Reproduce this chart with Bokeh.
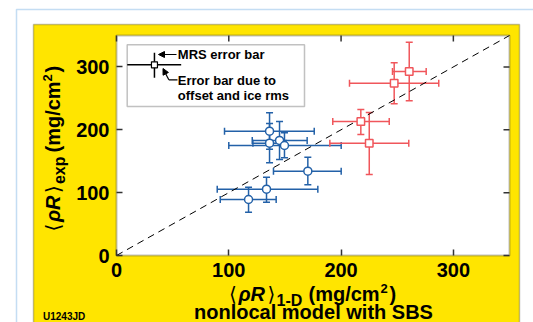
import math
from bokeh.plotting import figure
from bokeh.models import (Range1d, FixedTicker, ColumnDataSource, Whisker,
                          TeeHead, BoxAnnotation, Label, Arrow, NormalHead)
from bokeh.embed import file_html
from bokeh.resources import INLINE

# ---------------- data ----------------
ticks = [0, 100, 200, 300]
diag = [0, 350]
axis_span = (0, 350)

blue_x = [136.3, 145.2, 136.3, 149.6, 170.4, 133.6, 117.6]
blue_y = [197.8, 183.0, 178.7, 175.0, 134.1, 105.5, 89.1]
blue_xlo = [96.2, 120.9, 121.5, 100.0, 139.8, 89.7, 92.4]
blue_xhi = [176.1, 169.8, 151.0, 200.1, 200.1, 179.3, 142.2]
blue_ylo = [169.0, 152.7, 147.5, 155.4, 112.5, 84.8, 68.9]
blue_yhi = [227.0, 213.2, 210.0, 195.2, 156.4, 124.6, 108.7]

red_x = [260.7, 247.3, 217.6, 225.1]
red_y = [292.7, 274.1, 213.2, 178.7]
red_xlo = [245.8, 207.5, 192.6, 190.0]
red_xhi = [275.8, 287.0, 242.9, 260.3]
red_ylo = [246.1, 241.3, 192.5, 128.9]
red_yhi = [339.3, 306.6, 232.3, 227.5]

legend_x = [33.8]
legend_y = [303.4]
legend_xlo = [9.5]
legend_xhi = [57.6]
legend_ylo = [282.7]
legend_yhi = [322.5]

# ---------------- layout helpers (pixel -> data) ----------------
W, H = 533, 322
X0, X350 = 116.0, 509.0      # pixel columns of x = 0 and x = 350
Y0, Y350 = 255.0, 35.0       # pixel rows of y = 0 and y = 350
XS = (X350 - X0) / 350.0
YS = (Y0 - Y350) / 350.0
TICK = 6.0


def cx(px):
    return (px - X0) / XS


def cy(py):
    return (Y0 - py) / YS


BLUE = "#2361a8"
RED = "#f0565b"
YELLOW = "#FFE500"
DARK = "#333333"
FONT = "Liberation Sans"

p = figure(width=W, height=H,
           x_range=Range1d(cx(0), cx(W)), y_range=Range1d(cy(H), cy(0)),
           output_backend="svg", toolbar_location=None,
           min_border_left=0, min_border_right=0, min_border_top=0,
           min_border_bottom=0, min_border=0,
           border_fill_color="white", background_fill_color="white",
           outline_line_color=None)
p.xgrid.visible = False
p.ygrid.visible = False
p.title.visible = False

# backgrounds
p.add_layout(BoxAnnotation(left=cx(16), right=cx(900), top=cy(9), bottom=cy(900),
                           fill_color=None, fill_alpha=0, line_color="#3a8fd8",
                           line_width=1.5, level="underlay"))
p.add_layout(BoxAnnotation(left=cx(33), right=cx(519), top=cy(24), bottom=cy(900),
                           fill_color=YELLOW, fill_alpha=1, line_color=DARK,
                           line_width=1.5, level="underlay"))
p.add_layout(BoxAnnotation(left=axis_span[0], right=axis_span[1],
                           top=axis_span[1], bottom=axis_span[0],
                           fill_color="white", fill_alpha=1, line_color=DARK,
                           line_width=2, level="underlay"))


def style_axis(ax, loc):
    ax.ticker = FixedTicker(ticks=ticks)
    ax.fixed_location = loc
    ax.bounds = axis_span
    ax.major_tick_in = int(TICK)
    ax.major_tick_out = 0
    ax.minor_tick_in = 0
    ax.minor_tick_out = 0
    ax.axis_line_color = None
    ax.major_tick_line_color = DARK
    ax.major_tick_line_width = 1.5
    ax.major_label_text_font = FONT
    ax.major_label_text_font_style = "bold"
    ax.major_label_text_color = "black"
    ax.major_label_standoff = 7
    ax.major_label_text_font_size = "20px"


style_axis(p.xaxis[0], axis_span[0])
style_axis(p.yaxis[0], axis_span[0])

# mirrored inward ticks on top and right edges
n = len(ticks)
p.segment(x0=ticks, y0=[axis_span[1]] * n, x1=ticks, y1=[axis_span[1] - TICK / YS] * n,
          line_color=DARK, line_width=1.5)
p.segment(x0=[axis_span[1]] * n, y0=ticks, x1=[axis_span[1] - TICK / XS] * n, y1=ticks,
          line_color=DARK, line_width=1.5)

# diagonal
p.line(diag, diag, line_color="black", line_width=1, line_dash="7 5")


def errorbars(xs, ys, xlo, xhi, ylo, yhi, color, caps=True):
    src = ColumnDataSource(dict(x=xs, y=ys, xlo=xlo, xhi=xhi, ylo=ylo, yhi=yhi))
    for base, lo, hi, dim in (("y", "xlo", "xhi", "width"), ("x", "ylo", "yhi", "height")):
        if caps:
            kw = dict(upper_head=TeeHead(size=7, line_color=color, line_width=1.5),
                      lower_head=TeeHead(size=7, line_color=color, line_width=1.5))
        else:
            kw = dict(upper_head=None, lower_head=None)
        p.add_layout(Whisker(source=src, base=base, lower=lo, upper=hi, dimension=dim,
                             line_color=color, line_width=1.5, level="underlay", **kw))
    return src


sb = errorbars(blue_x, blue_y, blue_xlo, blue_xhi, blue_ylo, blue_yhi, BLUE)
sr = errorbars(red_x, red_y, red_xlo, red_xhi, red_ylo, red_yhi, RED)
sl = errorbars(legend_x, legend_y, legend_xlo, legend_xhi, legend_ylo, legend_yhi, "black", caps=False)

p.scatter("x", "y", source=sb, marker="circle", size=8, fill_color="white",
          line_color=BLUE, line_width=1.5)
p.scatter("x", "y", source=sr, marker="square", size=7.5, fill_color="white",
          line_color=RED, line_width=1.5)
p.scatter("x", "y", source=sl, marker="square", size=6, fill_color="white",
          line_color="black", line_width=1.2)

# legend box
p.add_layout(BoxAnnotation(left=cx(126.7), right=cx(304), top=cy(44.3), bottom=cy(106),
                           fill_alpha=0, fill_color=None, line_color=DARK, line_width=1.5))


def lab(x, y, text, size=13, style="bold", font=FONT, align="left", angle=0.0):
    # x, y: intended baseline anchor in picture pixels (top-left origin)
    shift = 0.32 * size
    if angle:
        x -= shift
    else:
        y -= shift
    p.add_layout(Label(x=cx(x), y=cy(y), text=text,
                       text_font=font, text_font_style=style,
                       text_font_size=f"{size}px",
                       text_color="black", text_align=align,
                       text_baseline="alphabetic", angle=angle))


lab(177.3, 58.3, "MRS error bar")
lab(177.3, 84, "Error bar due to")
lab(177.3, 99.3, "offset and ice rms")

p.add_layout(Arrow(end=NormalHead(size=6, fill_color="black", line_color="black"),
                   x_start=cx(176), y_start=cy(54), x_end=cx(158), y_end=cy(54),
                   line_color="black", line_width=1.2))
p.line([cx(177), cx(168.3)], [cy(79.3), cy(79.3)], line_color="black", line_width=1.2)
p.add_layout(Arrow(end=NormalHead(size=6, fill_color="black", line_color="black"),
                   x_start=cx(168.3), y_start=cy(79.3), x_end=cx(162.5), y_end=cy(68),
                   line_color="black", line_width=1.2))

# x axis label pieces
lab(228.6, 300, "\u27e8", size=20, style="normal", font="DejaVu Sans")
lab(238, 300, "\u03c1R", size=20, style="bold italic")
lab(267, 300, "\u27e9", size=20, style="normal", font="DejaVu Sans")
lab(276, 305, "1-D", size=16)
lab(308, 300, "(mg/cm", size=20)
lab(380, 292, "2", size=13)
lab(389, 300, ")", size=20)
lab(313, 317.5, "nonlocal model with SBS", size=20, align="center")
lab(42.5, 319.5, "U1243JD", size=10)

# y axis label pieces (rotated)
A = math.pi / 2
lab(59, 231, "\u27e8", size=20, style="normal", font="DejaVu Sans", angle=A)
lab(59, 221.6, "\u03c1R", size=20, style="bold italic", angle=A)
lab(59, 192.6, "\u27e9", size=20, style="normal", font="DejaVu Sans", angle=A)
lab(64, 183.6, "exp", size=16, angle=A)
lab(59, 152, "(mg/cm", size=20, angle=A)
lab(51, 80.9, "2", size=13, angle=A)
lab(59, 72, ")", size=20, angle=A)

open("out.html", "w").write(file_html(p, INLINE))
